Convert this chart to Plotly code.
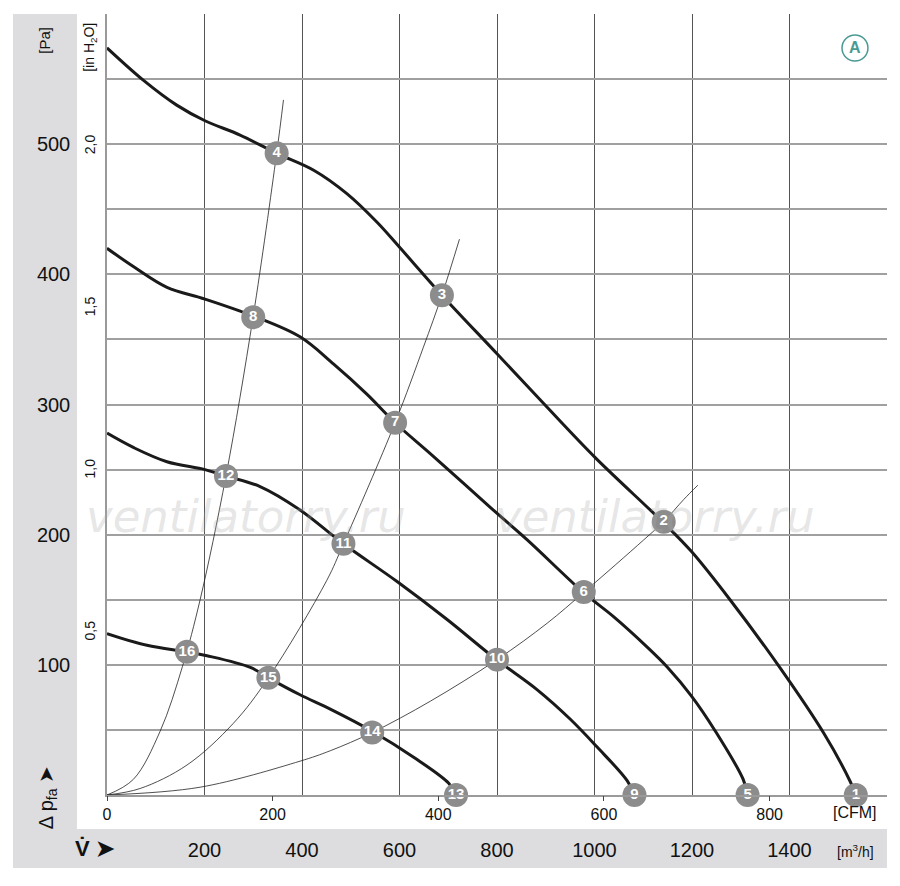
import plotly.graph_objects as go

# fan characteristic curves (flow m3/h, static pressure Pa)
curve1_q = [0, 75, 143, 201, 273, 348, 424, 492, 554, 602, 687, 800, 900, 1002, 1142, 1199, 1278, 1380, 1471, 1525, 1536]
curve1_p = [574, 549, 530, 518, 507, 493, 480, 462, 440, 420, 384, 339, 299, 259, 209, 187, 150, 98, 47, 10, 0]

curve2_q = [0, 54, 123, 201, 300, 396, 465, 533, 591, 670, 795, 862, 979, 1039, 1107, 1150, 1199, 1248, 1305, 1314]
curve2_p = [420, 406, 390, 381, 368, 352, 331, 308, 286, 260, 218, 196, 155, 137, 114, 98, 76, 49, 12, 0]

curve3_q = [0, 54, 123, 201, 244, 314, 396, 485, 595, 697, 799, 882, 951, 1005, 1067, 1082]
curve3_p = [278, 267, 256, 250, 245, 237, 219, 193, 164, 135, 104, 81, 58, 37, 11, 0]

curve4_q = [0, 82, 164, 205, 294, 331, 396, 458, 544, 629, 701, 716]
curve4_p = [124, 115, 110, 107, 98, 90, 77, 66, 49, 29, 9, 0]

# system (resistance) curves
sysA_q = [0, 54, 109, 155, 191, 244, 300, 348, 362]
sysA_p = [0, 12, 49, 99, 150, 245, 368, 493, 534]

sysB_q = [0, 68, 164, 259, 331, 451, 485, 591, 649, 687, 723]
sysB_p = [0, 5, 23, 55, 90, 165, 193, 286, 344, 384, 427]

sysC_q = [0, 191, 396, 458, 544, 663, 800, 903, 979, 1101, 1142, 1183, 1212]
sysC_p = [0, 6, 26, 34, 48, 72, 104, 132, 156, 196, 210, 227, 238]

# numbered operating points
pt_labels = [str(i) for i in range(1, 17)]
pt_q = [1536, 1142, 687, 348, 1314, 978, 591, 300, 1082, 800, 485, 244, 716, 544, 331, 164]
pt_p = [0, 210, 384, 493, 0, 156, 286, 367, 0, 104, 193, 245, 0, 48, 90, 110]

# axes
m3h_ticks = [200, 400, 600, 800, 1000, 1200, 1400, 1600]
pa_ticks = [0, 50, 100, 150, 200, 250, 300, 350, 400, 450, 500, 550, 600]
pa_labels = ["", "", "100", "", "200", "", "300", "", "400", "", "500", "", ""]
cfm_ticks = [0, 200, 400, 600, 800]
inh2o_ticks = [0.5, 1.0, 1.5, 2.0]
inh2o_labels = ["0,5", "1,0", "1,5", "2,0"]

M3H_PER_CFM = 1.699
PA_PER_INH2O = 249.09
Q_MAX = 1600
P_MAX = 600

FONT = "Liberation Sans, Arial, Roboto, sans-serif"
BAND = "#dddddf"

fig = go.Figure()

for q, p in [(sysA_q, sysA_p), (sysB_q, sysB_p), (sysC_q, sysC_p)]:
    fig.add_trace(go.Scatter(x=q, y=p, mode="lines", line=dict(color="#222", width=0.8, shape="spline"),
                             hoverinfo="skip", showlegend=False))

for q, p in [(curve1_q, curve1_p), (curve2_q, curve2_p), (curve3_q, curve3_p), (curve4_q, curve4_p)]:
    fig.add_trace(go.Scatter(x=q, y=p, mode="lines", line=dict(color="#1a1a1a", width=3, shape="spline", smoothing=1),
                             showlegend=False))

fig.add_trace(go.Scatter(x=pt_q, y=pt_p, mode="markers+text", text=pt_labels,
                         textposition="middle center", cliponaxis=False,
                         marker=dict(size=24, color="#8c8c8c"),
                         textfont=dict(color="white", size=15, family=FONT, weight="bold"),
                         showlegend=False))

# dummy traces so the secondary scales get drawn
fig.add_trace(go.Scatter(x=[0], y=[0], xaxis="x2", yaxis="y", mode="markers",
                         marker=dict(opacity=0), hoverinfo="skip", showlegend=False))
fig.add_trace(go.Scatter(x=[0], y=[0], xaxis="x", yaxis="y2", mode="markers",
                         marker=dict(opacity=0), hoverinfo="skip", showlegend=False))

fig.update_layout(
    width=900, height=886,
    margin=dict(l=107, r=13, t=14, b=91, pad=0),
    paper_bgcolor="white", plot_bgcolor="white",
    font=dict(family=FONT, color="#111"),
    xaxis=dict(range=[0, Q_MAX], tickvals=m3h_ticks, ticktext=[str(v) for v in m3h_ticks[:-1]] + [""],
               showgrid=True, gridcolor="#555", gridwidth=1, ticks="", zeroline=False,
               showline=True, linecolor="#9a9a9a", linewidth=1.5,
               tickfont=dict(size=20, family=FONT, color="#111"), ticklabelstandoff=36),
    xaxis2=dict(range=[0, Q_MAX / M3H_PER_CFM], overlaying="x", anchor="y", side="bottom",
                tickvals=cfm_ticks, ticks="outside", ticklen=5, tickcolor="#444", tickwidth=1,
                showgrid=False, zeroline=False, showline=False,
                tickfont=dict(size=16, family=FONT, color="#111")),
    yaxis=dict(range=[0, P_MAX], tickvals=pa_ticks, ticktext=pa_labels,
               showgrid=True, gridcolor="#a0a0a0", gridwidth=1.6, ticks="", zeroline=False,
               showline=True, linecolor="#9a9a9a", linewidth=1.5,
               tickfont=dict(size=20, family=FONT, color="#111"), ticklabelstandoff=31),
    yaxis2=dict(range=[0, P_MAX / PA_PER_INH2O], overlaying="y", anchor="x", side="left",
                tickvals=inh2o_ticks, ticktext=inh2o_labels, tickangle=-90,
                showgrid=False, zeroline=False, showline=False, ticks="",
                tickfont=dict(size=14, family=FONT, color="#111"), ticklabelstandoff=8),
)

# grey bands on the left and bottom
fig.add_shape(type="rect", xref="paper", yref="paper", x0=-0.1205, x1=-0.0385, y0=-0.0935, y1=1,
              fillcolor=BAND, line_width=0, layer="below")
fig.add_shape(type="rect", xref="paper", yref="paper", x0=-0.1205, x1=1.0, y0=-0.0935, y1=-0.0435,
              fillcolor=BAND, line_width=0, layer="below")

# circled "A"
fig.add_shape(type="circle", xref="paper", yref="paper", x0=0.9423, x1=0.9756, y0=0.9398, y1=0.9731,
              line=dict(color="#4a9a94", width=1.5))


def label(x, y, text, size, angle=0, **font):
    fig.add_annotation(xref="paper", yref="paper", x=x, y=y, text=text, textangle=angle,
                       xanchor="center", yanchor="middle", showarrow=False,
                       font=dict(size=size, **font))


label(0.959, 0.9565, "A", 16, color="#4a9a94", weight="bold")

# axis captions
label(-0.0795, 0.967, "[Pa]", 15, -90)
label(-0.0218, 0.958, "[in H<sub>2</sub>O]", 14, -90)
label(-0.0769, -0.004, "Δ p<sub>fa</sub> ➤", 20, -90)
label(-0.0154, -0.0679, "<b>V̇ ➤</b>", 22)
label(0.959, -0.0717, "[m<sup>3</sup>/h]", 14)
label(0.959, -0.023, "[CFM]", 16)

# watermark
for xw in [0.178, 0.7026]:
    label(xw, 0.356, "ventilatorry.ru", 45, color="rgba(170,170,170,0.3)", family="DejaVu Sans", style="italic")

fig.write_html("out.html", config={"displayModeBar": False},
               post_script="document.body.style.margin = '0';")
